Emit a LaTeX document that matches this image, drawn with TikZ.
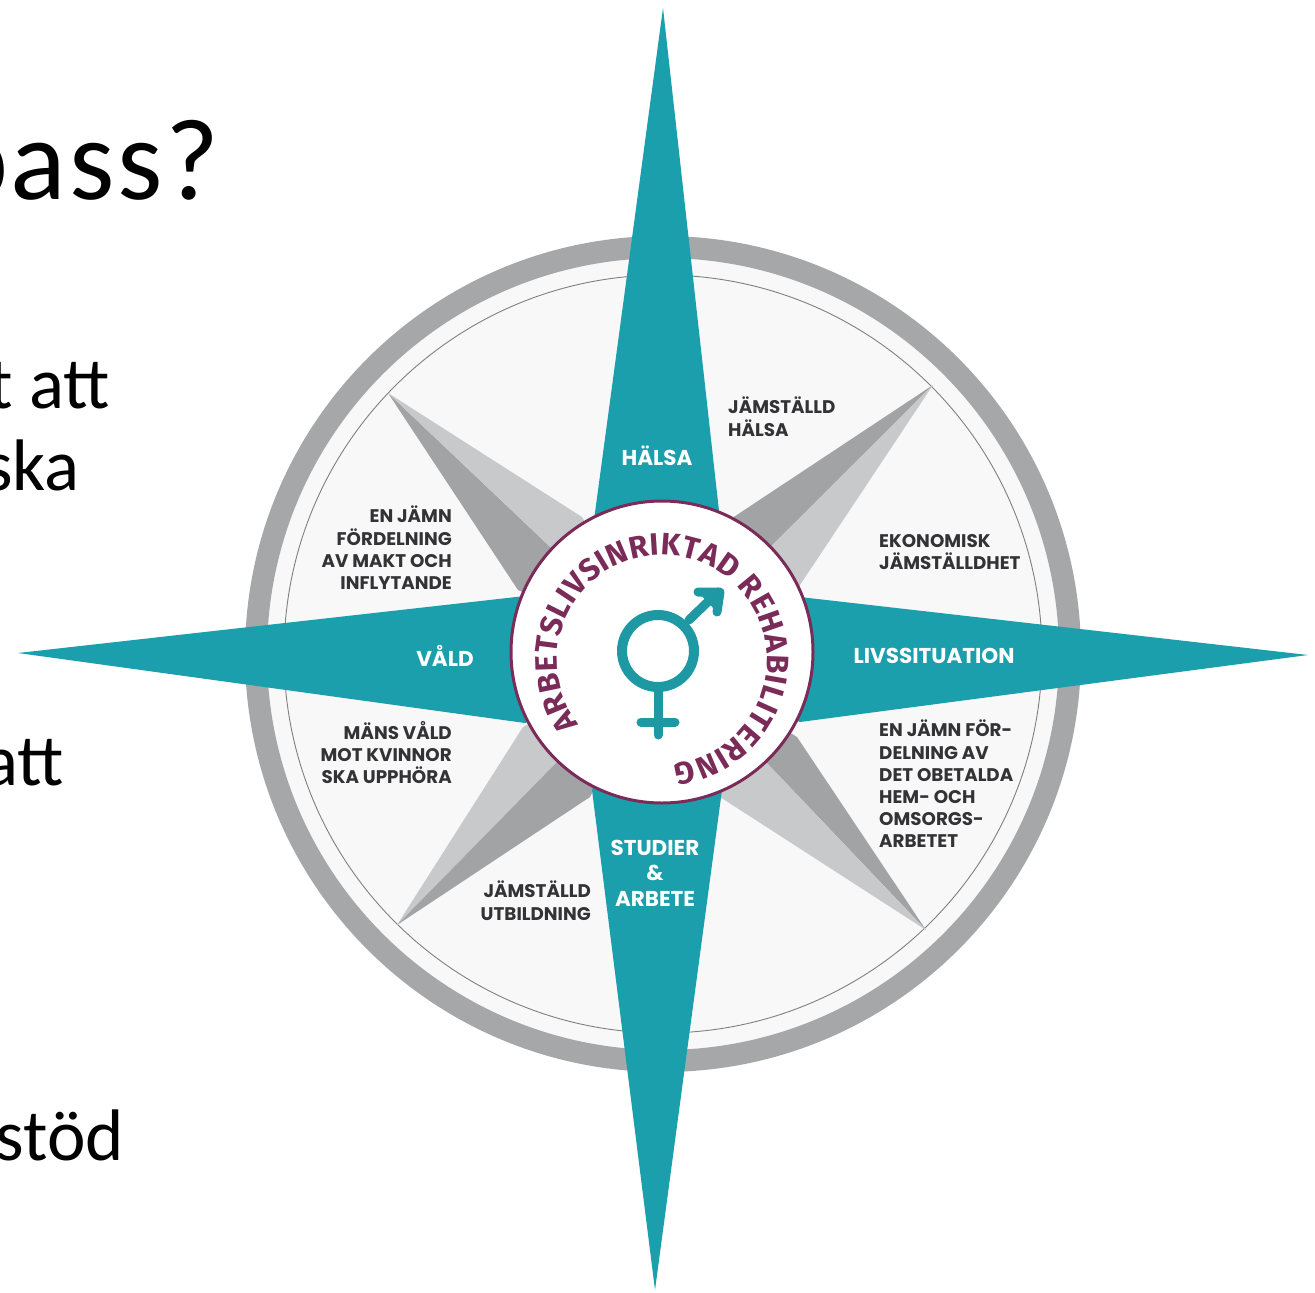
\documentclass[tikz,border=0pt]{standalone}
\usepackage{fontspec}
\setmainfont{Carlito}
\newfontfamily\lab{Poppins}
\newfontfamily\circf{Fira Sans}
\newfontfamily\lighter[LetterSpace=2.5]{Carlito}
\usetikzlibrary{decorations.text}
\definecolor{teal1}{HTML}{1C9FAC}
\definecolor{teal2}{HTML}{1E98A3}
\definecolor{ringg}{HTML}{A6A7A9}
\definecolor{dk}{HTML}{A2A3A5}
\definecolor{lt}{HTML}{C8C9CB}
\definecolor{plum}{HTML}{7A2B58}
\definecolor{discc}{HTML}{F8F8F9}
\definecolor{ink}{HTML}{333335}
\tikzset{
 bigt/.style={anchor=base east,inner sep=0,font=\lighter\fontsize{116}{116}\selectfont,text=black},
 bodyt/.style={anchor=base east,inner sep=0,font=\fontsize{73}{73}\selectfont,text=black},
 darkl/.style={inner sep=0,font=\lab\bfseries\fontsize{18.3}{22.2}\selectfont,text=ink},
 darkL/.style={darkl,anchor=north west,align=left},
 darkR/.style={darkl,anchor=north east,align=right},
 whitel/.style={inner sep=0,font=\lab\bfseries\fontsize{21.5}{25.5}\selectfont,text=white,align=center},
 sym/.style={draw=teal2,line width=10pt,line cap=round,line join=round}
}
\begin{document}
\begin{tikzpicture}[x=1pt,y=-1pt]
\useasboundingbox (0,0) rectangle (1315,1293);
\clip (0,0) rectangle (1315,1293);
\fill[white] (0,0) rectangle (1315,1293);
\coordinate (c) at (663,654);
% left text
\node[bigt] (t1) at (220,199) {pass?};
\node[bodyt] (t2) at (110,408) {t att};
\node[bodyt] (t3) at (80,490) {ska};
\node[bodyt] (t4) at (64,785) {att};
\node[bodyt] (t5) at (124,1160) {stöd};
% disc
\fill[discc] (c) circle[radius=400pt];
\draw[ringg,line width=22pt] (c) circle[radius=407pt];
\draw[gray,line width=0.9pt] (c) circle[radius=379pt];
% grey star
\fill[dk] (933,385) -- (690,546) -- (c) -- cycle;
\fill[lt] (933,385) -- (790,600) -- (c) -- cycle;
\fill[dk] (388,393) -- (518,590) -- (c) -- cycle;
\fill[lt] (388,393) -- (582,517) -- (c) -- cycle;
\fill[lt] (397,925) -- (523,727) -- (c) -- cycle;
\fill[dk] (397,925) -- (590,797) -- (c) -- cycle;
\fill[dk] (926,930) -- (797,737) -- (c) -- cycle;
\fill[lt] (926,930) -- (720,797) -- (c) -- cycle;
% teal star
\fill[teal1] (663,8) -- (720,520) -- (c) -- (594,520) -- cycle;
\fill[teal1] (655,1290) -- (592,790) -- (c) -- (722,790) -- cycle;
\fill[teal1] (18,653) -- (525,596) -- (c) -- (525,723) -- cycle;
\fill[teal1] (1308,655) -- (800,597) -- (c) -- (800,722) -- cycle;
% hub
\node[circle,draw=plum,fill=white,line width=3pt,minimum size=302pt,inner sep=0] (hub) at (662,652) {};
\path[postaction={decorate,decoration={text along path,text align={fit to path},
 text={|\circf\bfseries\fontsize{31}{31}\selectfont\color{plum}|ARBETSLIVSINRIKTAD REHABILITERING}}}]
 (662,660) ++(218:105pt) arc[start angle=218,end angle=-84,radius=105pt];
% symbol
\draw[sym] (658,651) circle[radius=36pt];
\draw[sym,line width=9pt] (689,620) -- (718,592);
\draw[sym,line width=9pt,fill=teal2] (698,592) -- (720,592) -- (717,612);
\draw[sym,line width=9pt] (658,690) -- (658,735);
\draw[sym,line width=9pt] (641,722) -- (675,722);
% labels
\node[whitel] (l1) at (657,456) {HÄLSA};
\node[whitel] (l2) at (445,656) {VÅLD};
\node[whitel] (l3) at (934,656) {LIVSSITUATION};
\node[whitel] (l4) at (655,873) {STUDIER\\\&\\ARBETE};
\node[darkL] (d1) at (728,397) {JÄMSTÄLLD\\HÄLSA};
\node[darkL] (d2) at (879,534) {EKONOMISK\\JÄMSTÄLLDHET};
\node[darkL] (d3) at (879,720) {EN JÄMN FÖR-\\DELNING AV\\DET OBETALDA\\HEM- OCH\\OMSORGS-\\ARBETET};
\node[darkR] (d4) at (452,506) {EN JÄMN\\FÖRDELNING\\AV MAKT OCH\\INFLYTANDE};
\node[darkR] (d5) at (452,721) {MÄNS VÅLD\\MOT KVINNOR\\SKA UPPHÖRA};
\node[darkR] (d6) at (591,881) {JÄMSTÄLLD\\UTBILDNING};
\end{tikzpicture}
\end{document}
